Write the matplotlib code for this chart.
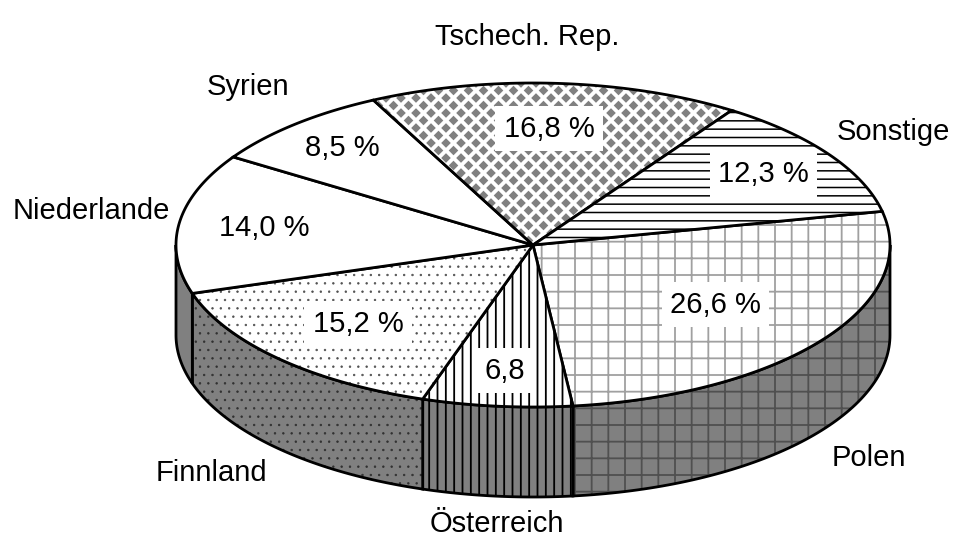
import numpy as np
import matplotlib.pyplot as plt
from matplotlib.patches import Polygon
from matplotlib.collections import PatchCollection

plt.rcParams['font.family'] = ['Liberation Sans', 'DejaVu Sans']

# data
countries = ['Polen', 'Österreich', 'Finnland', 'Niederlande', 'Syrien', 'Tschech. Rep.', 'Sonstige']
shares = [26.6, 6.8, 15.2, 14.0, 8.5, 16.8, 12.3]
share_labels = ['26,6 %', '6,8', '15,2 %', '14,0 %', '8,5 %', '16,8 %', '12,3 %']

# geometry of the pie (pixel space)
cx, cy, rx, ry, depth = 533, 245, 357, 162, 90
start = 12.0

# styles per slice
top_hatch = ['+', '||', '..', None, None, 'diamond', '--']
top_hcol = ['#a0a0a0', 'black', '#505050', 'black', 'black', '#808080', 'black']
side_hcol = ['#505050', 'black', '#303030', 'black', 'black', 'black', 'black']
hatch_lw = [1.3, 1.3, 0.5, 1.0, 1.0, 1.0, 1.1]
label_r = [0.63, 0.78, 0.69, 0.76, 0.8, 0.72, 0.78]
outer_pos = [(869, 458), (497, 524), (211, 473), (91, 211), (248, 87), (527, 37), (893, 132)]

fig = plt.figure(figsize=(9.64, 5.53), dpi=100)
ax = fig.add_axes([0, 0, 1, 1])
ax.set_xlim(0, 964)
ax.set_ylim(553, 0)
ax.axis('off')


def ell(t):
    t = np.radians(t)
    return np.column_stack([cx + rx * np.cos(t), cy - ry * np.sin(t)])


def hatched(pts, fc, hc, h, lw):
    plt.rcParams['hatch.linewidth'] = lw
    p = Polygon(pts, closed=True, facecolor=fc, edgecolor=hc, hatch=h, linewidth=0)
    if hasattr(p, 'set_hatch_linewidth'):
        p.set_hatch_linewidth(lw)
    ax.add_patch(p)
    return p


total = sum(shares)
angles = [start]
for s in shares:
    angles.append(angles[-1] - 360 * s / total)

# side walls (front half only, angles between 0 and -180)
for i in range(len(shares)):
    a, b = angles[i], angles[i + 1]
    a2, b2 = min(a, 0), max(b, -180)
    if a2 <= b2:
        continue
    t = np.linspace(a2, b2, 80)
    top = ell(t)
    bot = top[::-1] + [0, depth]
    pts = np.vstack([top, bot])
    h = top_hatch[i] if top_hatch[i] not in (None, 'diamond') else None
    hatched(pts, '#808080', side_hcol[i], h, hatch_lw[i])
    ax.add_patch(Polygon(pts, closed=True, fill=False, edgecolor='black', linewidth=2.0))

# top faces
for i in range(len(shares)):
    t = np.linspace(angles[i], angles[i + 1], 120)
    pts = np.vstack([[cx, cy], ell(t)])
    h = top_hatch[i]
    if h == 'diamond':
        base = Polygon(pts, closed=True, facecolor='white', linewidth=0)
        ax.add_patch(base)
        d = 4.8
        diamonds = []
        for gx in np.arange(cx - rx, cx + rx + 15, 7.5):
            for gy in np.arange(cy - ry - 15, cy + 15, 7.5):
                if int(round((gx - cx + rx) / 7.5) + round((gy - cy + ry + 15) / 7.5)) % 2:
                    continue
                diamonds.append(Polygon([[gx - d, gy], [gx, gy - d], [gx + d, gy], [gx, gy + d]]))
        pc = PatchCollection(diamonds, facecolor=top_hcol[i], edgecolor='none')
        ax.add_collection(pc)
        pc.set_clip_path(base)
    else:
        hatched(pts, 'white', top_hcol[i], h, hatch_lw[i])
    ax.add_patch(Polygon(pts, closed=True, fill=False, edgecolor='black', linewidth=2.0))

# labels
for i in range(len(shares)):
    mid = np.radians((angles[i] + angles[i + 1]) / 2)
    x = cx + label_r[i] * rx * np.cos(mid)
    y = cy - label_r[i] * ry * np.sin(mid)
    ax.text(x, y, share_labels[i], fontsize=21, ha='center', va='center',
            bbox=dict(facecolor='white', edgecolor='none', pad=6))
    ox, oy = outer_pos[i]
    ax.text(ox, oy, countries[i], fontsize=21, ha='center', va='center')

plt.savefig('out.png', dpi=100)
